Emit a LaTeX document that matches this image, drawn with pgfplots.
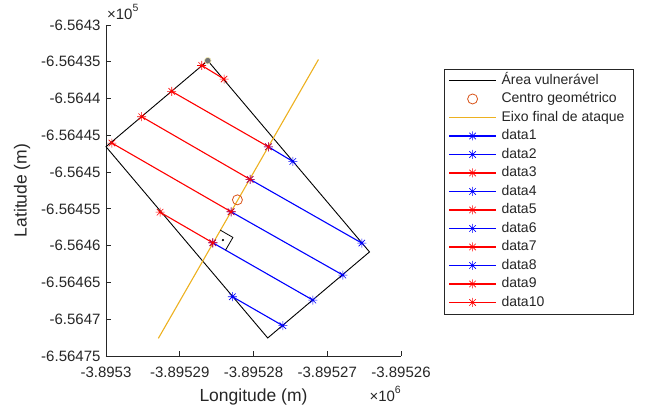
\documentclass[border=0pt]{standalone}
\usepackage{pgfplots}
\pgfplotsset{compat=1.18}
\usepackage{fontspec}
\setmainfont{Liberation Sans}
\definecolor{axgray}{rgb}{0.15,0.15,0.15}
\definecolor{myyellow}{rgb}{0.929,0.694,0.125}
\definecolor{myorange}{rgb}{0.85,0.325,0.098}
\definecolor{dotgray}{rgb}{0.45,0.45,0.45}
\definecolor{dotedge}{rgb}{0.95,0.92,0.7}
\pgfdeclareplotmark{ast}{%
  \pgfpathmoveto{\pgfpoint{-\pgfplotmarksize}{0pt}}\pgfpathlineto{\pgfpoint{\pgfplotmarksize}{0pt}}%
  \pgfpathmoveto{\pgfpoint{0pt}{-\pgfplotmarksize}}\pgfpathlineto{\pgfpoint{0pt}{\pgfplotmarksize}}%
  \pgfpathmoveto{\pgfpoint{-0.72\pgfplotmarksize}{-0.72\pgfplotmarksize}}\pgfpathlineto{\pgfpoint{0.72\pgfplotmarksize}{0.72\pgfplotmarksize}}%
  \pgfpathmoveto{\pgfpoint{-0.72\pgfplotmarksize}{0.72\pgfplotmarksize}}\pgfpathlineto{\pgfpoint{0.72\pgfplotmarksize}{-0.72\pgfplotmarksize}}%
  \pgfusepathqstroke}
\pgfplotsset{
  ser/.style={#1, line width=1.1pt, mark=ast, mark size=4.5pt, mark options={line width=0.6pt}},
}
% coordinates: metres east of x = -3895300 and north of y = -656475
\begin{document}
\begin{tikzpicture}
\path[use as bounding box] (0,0) rectangle (649pt,414pt);
\begin{axis}[
  at={(106pt,58pt)}, anchor=south west,
  scale only axis, width=295pt, height=331pt,
  xmin=0, xmax=40, ymin=0, ymax=45,
  axis x line=bottom, axis y line=left,
  axis line style={-, axgray, line width=0.8pt},
  xtick={0,10,20,30,40},
  xticklabels={-3.8953,-3.89529,-3.89528,-3.89527,-3.89526},
  ytick={0,5,10,15,20,25,30,35,40,45},
  yticklabels={-6.56475,-6.5647,-6.56465,-6.5646,-6.56455,-6.5645,-6.56445,-6.5644,-6.56435,-6.5643},
  tick align=inside, major tick length=5pt,
  tick style={axgray, line width=0.8pt},
  ticklabel style={font=\fontsize{15}{17}\selectfont, text=axgray},
  xticklabel style={yshift=-7pt},
  yticklabel style={xshift=-2pt},
  xlabel={Longitude (m)}, ylabel={Latitude (m)},
  xlabel style={at={(axis description cs:0.5,-0.138)}, anchor=base, font=\fontsize{17.5}{20}\selectfont, text=axgray},
  ylabel style={at={(axis description cs:-0.269,0.5)}, anchor=base, font=\fontsize{17.5}{20}\selectfont, text=axgray},
  clip=false,
  legend image code/.code={\draw[mark repeat=2,mark phase=2,#1,line width=1.8pt] plot coordinates {(0pt,0pt) (23.5pt,0pt) (47pt,0pt)};},
  legend style={at={(axis description cs:1.1458,0.867)}, anchor=north west,
    draw=axgray, fill=white,
    font=\fontsize{14}{16}\selectfont, text=black!85,
    inner xsep=4pt, inner ysep=2pt, row sep=0pt,
    nodes={text height=10.5pt, text depth=3pt, inner ysep=2.5pt, inner xsep=4.5pt}},
  legend cell align=left,
]
\addplot[black, line width=0.9pt] coordinates {(13.80,40.15) (35.73,14.15) (21.93,2.45) (0,28.45) (13.80,40.15)};
\addlegendentry{Área vulnerável}
\addplot[only marks, mark=o, mark size=5pt, myorange, mark options={line width=0.8pt}] coordinates {(17.82,21.23)};
\addlegendentry{Centro geométrico}
\addplot[myyellow, line width=1.1pt] coordinates {(7.10,2.40) (28.81,40.31)};
\addlegendentry{Eixo final de ataque}
\addplot[ser=blue] coordinates {(17.14,8.06) (23.98,4.12)};
\addlegendentry{data1}
\addplot[ser=blue] coordinates {(14.48,15.39) (28.05,7.60)};
\addlegendentry{data2}
\addplot[ser=red] coordinates {(7.33,19.55) (14.48,15.39)};
\addlegendentry{data3}
\addplot[ser=blue] coordinates {(16.96,19.61) (32.12,11.00)};
\addlegendentry{data4}
\addplot[ser=red] coordinates {(0.80,28.95) (16.96,19.61)};
\addlegendentry{data5}
\addplot[ser=blue] coordinates {(19.54,24.01) (34.69,15.35)};
\addlegendentry{data6}
\addplot[ser=red] coordinates {(4.84,32.53) (19.54,24.01)};
\addlegendentry{data7}
\addplot[ser=blue] coordinates {(22.02,28.44) (25.33,26.45)};
\addlegendentry{data8}
\addplot[ser=red] coordinates {(8.91,35.98) (22.02,28.44)};
\addlegendentry{data9}
\addplot[ser=red] coordinates {(12.98,39.50) (16.01,37.65)};
\addlegendentry{data10}
% vertex marker and right-angle symbol (not in legend)
\addplot[forget plot, only marks, mark=*, mark size=3.3pt, mark options={fill=dotgray, draw=dotedge, line width=0.6pt}] coordinates {(13.80,40.15)};
\addplot[forget plot, black, line width=0.8pt] coordinates {(15.48,17.12) (17.21,16.12) (16.21,14.39)};
\addplot[forget plot, only marks, mark=*, mark size=0.9pt, black] coordinates {(15.85,15.76)};
\node[anchor=base west, font=\fontsize{15}{17}\selectfont, text=axgray, inner sep=0pt] at (axis description cs:0.003,1.017) {×10\raisebox{0.55em}{\fontsize{10.5}{11}\selectfont 5}};
\node[anchor=base east, font=\fontsize{15}{17}\selectfont, text=axgray, inner sep=0pt] at (axis description cs:1.0,-0.138) {×10\raisebox{0.55em}{\fontsize{10.5}{11}\selectfont 6}};
\end{axis}
\end{tikzpicture}
\end{document}
